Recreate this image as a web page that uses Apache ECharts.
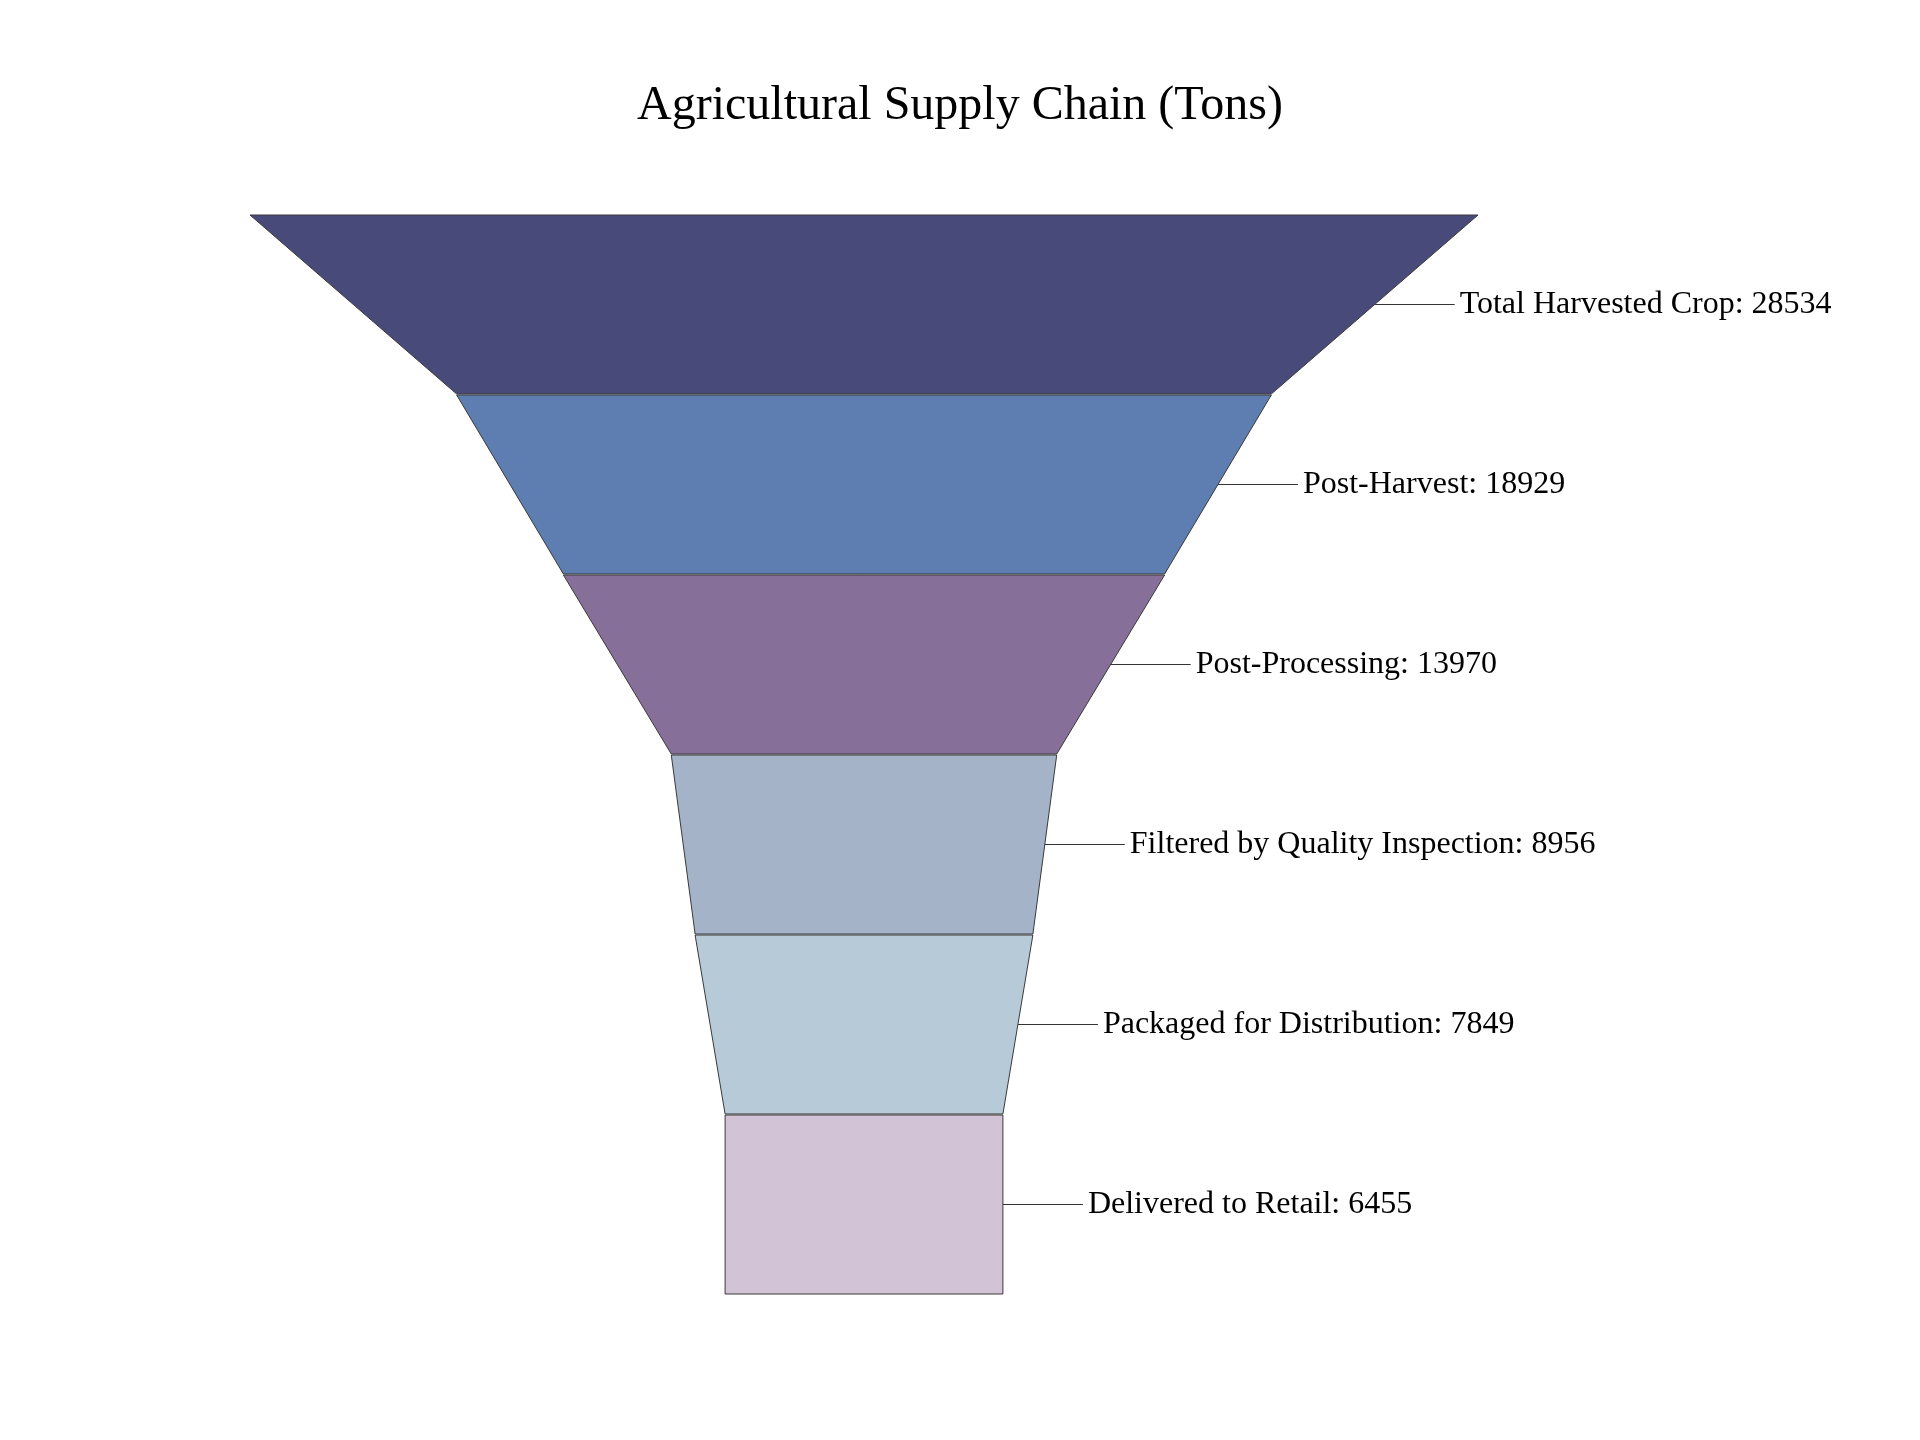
<!DOCTYPE html>
<html>
<head>
<meta charset="utf-8">
<title>Agricultural Supply Chain (Tons)</title>
<script src="https://cdn.jsdelivr.net/npm/echarts@6/dist/echarts.min.js"></script>
<style>
  html, body { margin: 0; padding: 0; background: #fff; }
  #chart { width: 1920px; height: 1440px; }
</style>
</head>
<body>
<div id="chart"></div>
<script>
// stages of the supply chain, top to bottom
const stages = [
  "Total Harvested Crop",
  "Post-Harvest",
  "Post-Processing",
  "Filtered by Quality Inspection",
  "Packaged for Distribution",
  "Delivered to Retail"
]
const tons = [28534, 18929, 13970, 8956, 7849, 6455]
const stageColors = ["#484a7a", "#5e7db1", "#86709a", "#a4b3c8", "#b6cad7", "#d2c4d6"]

const chart = echarts.init(document.getElementById("chart"))

// funnel closes to a point after the last item, so an invisible
// trailing item with the last value keeps the last stage square
const gap = 1
const stageH = 179
const n = stages.length + 1

const data = stages.map((name, i) => ({
  name: name,
  value: tons[i],
  itemStyle: { color: stageColors[i] }
}))
data.push({
  name: "",
  value: tons[tons.length - 1],
  itemStyle: { color: "rgba(0,0,0,0)", borderWidth: 0 },
  label: { show: false },
  labelLine: { show: false }
})

const option = {
  backgroundColor: "#ffffff",
  animation: false,
  title: {
    text: "Agricultural Supply Chain (Tons)",
    left: "center",
    top: 77,
    textStyle: {
      fontFamily: "Liberation Serif",
      fontSize: 48,
      fontWeight: "normal",
      color: "#000"
    }
  },
  series: [{
    type: "funnel",
    sort: "none",
    left: 250,
    top: 215,
    width: 1228,
    height: stageH * n + gap * (n - 1),
    min: 0,
    max: Math.max(...tons),
    minSize: "0%",
    maxSize: "100%",
    gap: gap,
    silent: true,
    label: {
      show: true,
      position: "right",
      formatter: "{b}: {c}",
      fontFamily: "Liberation Serif",
      fontSize: 32,
      color: "#000",
      padding: [5, 0, 0, 0]
    },
    labelLine: {
      show: true,
      length: 80,
      lineStyle: { color: "#333", width: 1.2 }
    },
    itemStyle: { borderColor: "#3a3a3a", borderWidth: 1 },
    emphasis: { disabled: true },
    data: data
  }]
}

chart.setOption(option)
</script>
</body>
</html>
